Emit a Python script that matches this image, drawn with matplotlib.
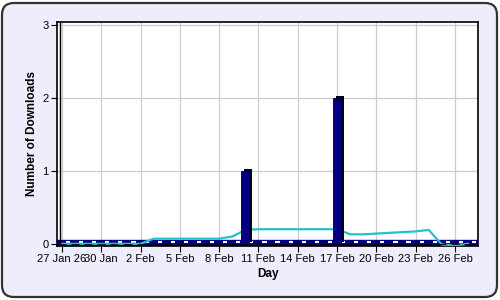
import matplotlib.pyplot as plt
from matplotlib.patches import FancyBboxPatch

# daily downloads, 27 Jan .. 27 Feb
days = list(range(32))
downloads = [0] * 32
downloads[14] = 1   # 10 Feb
downloads[21] = 2   # 17 Feb

# moving average
avg = [0, 0, 0, 0, 0, 0, 0, 0.07, 0.07, 0.07, 0.07, 0.07, 0.07, 0.10, 0.19,
       0.20, 0.20, 0.20, 0.20, 0.20, 0.20, 0.20, 0.13, 0.13, 0.14, 0.15, 0.16,
       0.17, 0.19, -0.01, -0.02, 0]

tick_days = [0, 3, 6, 9, 12, 15, 18, 21, 24, 27, 30]
tick_labels = ['27 Jan 26', '30 Jan', '2 Feb', '5 Feb', '8 Feb', '11 Feb',
               '14 Feb', '17 Feb', '20 Feb', '23 Feb', '26 Feb']

NAVY = '#000080'
CYAN = '#22C2C8'

plt.rcParams['font.family'] = ['Liberation Sans', 'DejaVu Sans']

fig = plt.figure(figsize=(5, 3), dpi=100, facecolor='white')
frame = FancyBboxPatch((2, 3), 495, 294, boxstyle='round,pad=0,rounding_size=12',
                       transform=None, facecolor='#EDEDFB', edgecolor='#333333',
                       linewidth=1.6, zorder=-10)
fig.patches.append(frame)

ax = fig.add_axes([0.114, 0.18, 0.842, 0.747])
ax.set_facecolor('white')

# floor strip of the zero bars
ax.axhspan(-0.012, 0.05, color=NAVY, zorder=2)
ax.axhline(-0.012, color='black', linewidth=1.0, zorder=2)
ax.hlines([0.02] * len(days), [d + 0.3 for d in days], [d + 0.62 for d in days],
          color='white', linewidth=1.5, zorder=3)

ax.plot(days, avg, color=CYAN, linewidth=1.6, zorder=3)

# bar sides (shadow) and faces
ax.bar([d + 0.2 for d in days], downloads, width=0.62, bottom=0.03,
       color='#000020', zorder=4)
ax.bar(days, downloads, width=0.62, color=NAVY, edgecolor='black',
       linewidth=0.6, zorder=5)

ax.set_xlim(-0.38, 31.76)
ax.set_ylim(-0.03, 3.04)
ax.set_xticks(tick_days)
ax.set_xticklabels(tick_labels)
ax.set_yticks([0, 1, 2, 3])
ax.tick_params(labelsize=8, length=4, color='black', pad=2)
ax.grid(color='#CCCCCC', linewidth=0.9)
ax.set_axisbelow(True)
for s in ax.spines.values():
    s.set_linewidth(1.2)
ax.plot([0.006, 0.006], [0, 1], transform=ax.transAxes, color='black',
        linewidth=1.0, zorder=6)

ax.set_xlabel('Day', fontsize=8.5, fontweight='bold', labelpad=3)
ax.set_ylabel('Number of Downloads', fontsize=8.5, fontweight='bold', labelpad=3)

fig.savefig('out.png', dpi=100)
